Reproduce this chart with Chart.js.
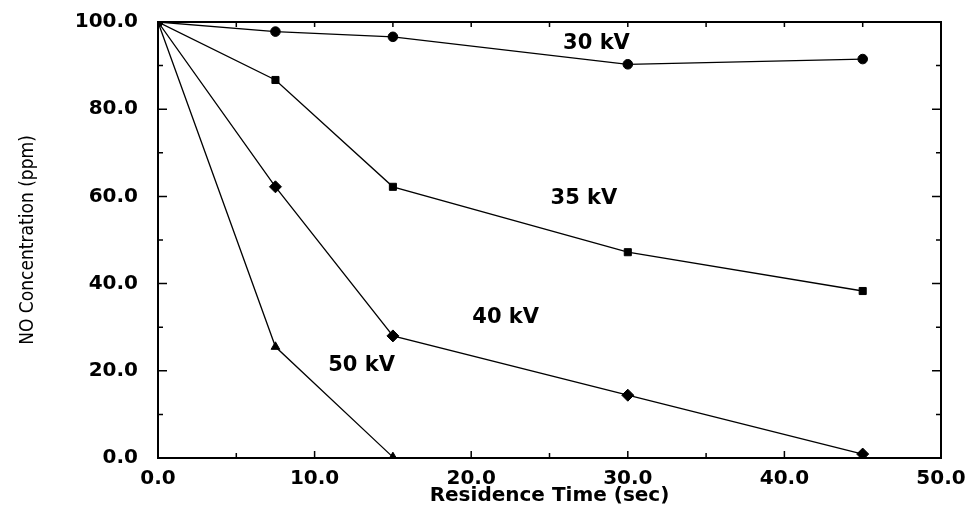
<!DOCTYPE html>
<html>
<head>
<meta charset="utf-8">
<script src="https://cdn.jsdelivr.net/npm/chart.js@4.4.1/dist/chart.umd.min.js"></script>
<style>
  html, body { margin: 0; padding: 0; background: #fff; }
  #wrap { width: 971px; height: 508px; }
</style>
</head>
<body>
<div id="wrap"><canvas id="noChart"></canvas></div>
<script>
// residence time (sec)
const times = [0, 7.5, 15, 30, 45];
const times50 = [0, 7.5, 15];

// NO concentration (ppm)
const conc30 = [100, 97.8, 96.6, 90.3, 91.5];
const conc35 = [100, 86.7, 62.2, 47.2, 38.3];
const conc40 = [100, 62.2, 28.0, 14.4, 0.9];
const conc50 = [100, 25.5, 0.2];

// series labels written inside the plot, placed in data coordinates
const labelTexts = ["30 kV", "35 kV", "40 kV", "50 kV"];
const labelX = [28.0, 27.2, 22.2, 13.0];
const labelY = [95.0, 59.4, 32.1, 21.2];

const tickFont = { family: "'DejaVu Sans', sans-serif", size: 20, weight: "bold" };

function toPoints(xs, ys) {
  return xs.map((x, i) => ({ x: x, y: ys[i] }));
}

function series(label, xs, ys, style, radius) {
  return {
    label: label,
    data: toPoints(xs, ys),
    borderColor: "#000",
    backgroundColor: "#000",
    borderWidth: 1.3,
    pointStyle: style,
    pointRadius: radius,
    pointBorderWidth: 1,
    tension: 0,
  };
}

// frame, inward tick marks and the kV labels
const framePlugin = {
  id: "frame",
  afterDatasetsDraw(chart) {
    const ctx = chart.ctx;
    const area = chart.chartArea;
    const xs = chart.scales.x;
    const ys = chart.scales.y;
    ctx.save();
    ctx.strokeStyle = "#000";
    ctx.lineWidth = 1.5;
    ctx.beginPath();
    for (let v = 0; v <= 50; v += 5) {
      const px = xs.getPixelForValue(v);
      const len = v % 10 === 0 ? 7 : 5;
      ctx.moveTo(px, area.bottom);
      ctx.lineTo(px, area.bottom - len);
      ctx.moveTo(px, area.top);
      ctx.lineTo(px, area.top + 5);
    }
    for (let v = 0; v <= 100; v += 10) {
      const py = ys.getPixelForValue(v);
      const len = v % 20 === 0 ? 9 : 5;
      ctx.moveTo(area.left, py);
      ctx.lineTo(area.left + len, py);
      ctx.moveTo(area.right, py);
      ctx.lineTo(area.right - len, py);
    }
    ctx.stroke();
    ctx.lineWidth = 2;
    ctx.strokeRect(area.left, area.top, area.right - area.left, area.bottom - area.top);

    ctx.fillStyle = "#000";
    ctx.font = "bold 21px 'DejaVu Sans', sans-serif";
    ctx.textAlign = "center";
    ctx.textBaseline = "middle";
    labelTexts.forEach((t, i) => {
      ctx.fillText(t, xs.getPixelForValue(labelX[i]), ys.getPixelForValue(labelY[i]));
    });
    ctx.restore();
  },
};

const noChart = document.getElementById("noChart");
new Chart(noChart, {
  type: "line",
  data: {
    datasets: [
      series("30 kV", times, conc30, "circle", 4.8),
      series("35 kV", times, conc35, "rect", 5),
      series("40 kV", times, conc40, "rectRot", 6),
      series("50 kV", times50, conc50, "triangle", 5),
    ],
  },
  options: {
    responsive: true,
    maintainAspectRatio: false,
    animation: false,
    layout: { padding: { top: 22, right: 30, left: 0, bottom: 0 } },
    plugins: {
      legend: { display: false },
      tooltip: { enabled: false },
    },
    scales: {
      x: {
        type: "linear",
        min: 0,
        max: 50,
        afterFit: (scale) => {
          scale.height = 50;
          scale.paddingLeft = 0;
          scale.paddingRight = 0;
        },
        grid: { display: false, drawTicks: false },
        border: { display: false },
        ticks: {
          stepSize: 10,
          padding: 9,
          color: "#000",
          font: tickFont,
          maxRotation: 0,
          callback: (value) => value.toFixed(1),
        },
        title: {
          display: true,
          text: "Residence Time (sec)",
          color: "#000",
          font: { family: "'DejaVu Sans', sans-serif", size: 20, weight: "bold" },
          padding: { top: 0, bottom: 0 },
        },
      },
      y: {
        type: "linear",
        min: 0,
        max: 100,
        afterFit: (scale) => {
          scale.width = 158;
          scale.paddingTop = 0;
          scale.paddingBottom = 0;
        },
        grid: { display: false, drawTicks: false },
        border: { display: false },
        ticks: {
          stepSize: 20,
          padding: 20,
          color: "#000",
          font: tickFont,
          callback: (value) => value.toFixed(1),
        },
        title: {
          display: true,
          text: "NO Concentration (ppm)",
          color: "#000",
          font: { family: "'Liberation Sans Narrow', 'DejaVu Sans Condensed', sans-serif", size: 19 },
          padding: { top: 17, bottom: 0 },
        },
      },
    },
  },
  plugins: [framePlugin],
});
</script>
</body>
</html>
